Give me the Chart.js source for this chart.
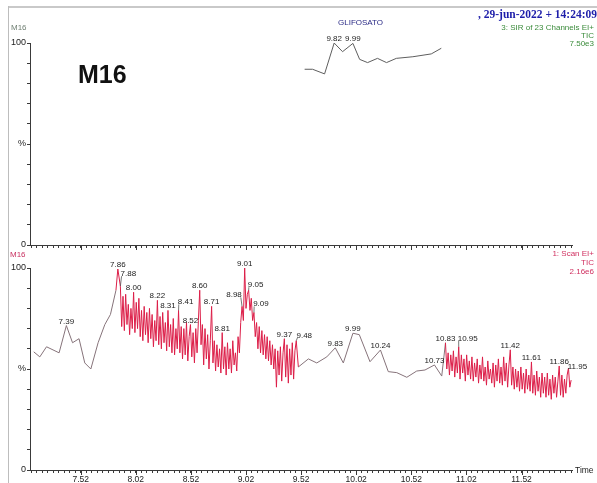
<!DOCTYPE html>
<html>
<head>
<meta charset="utf-8">
<script src="https://cdn.jsdelivr.net/npm/chart.js@4.4.1/dist/chart.umd.min.js"></script>
<style>
  html, body { margin: 0; padding: 0; background: #fff; }
  #wrap { position: relative; width: 597px; height: 483px; overflow: hidden; background: #fff;
          font-family: "Liberation Sans", Arial, sans-serif; }
  canvas { position: absolute; left: 0; }
  .t { position: absolute; line-height: 1; white-space: nowrap; }
  .frameTop { position: absolute; left: 8px; top: 6px; width: 600px; height: 2px; background: #c9c9c9; }
  .frameLeft { position: absolute; left: 8px; top: 6px; width: 1px; height: 480px; background: #bdbdbd; }
</style>
</head>
<body>
<div id="wrap">
  <div class="frameTop"></div>
  <div class="frameLeft"></div>
  <canvas id="topChart" width="597" height="255" style="top:0"></canvas>
  <canvas id="bottomChart" width="597" height="233" style="top:250px"></canvas>

  <div class="t" style="left:11px; top:24px; font-size:8px; color:#6f7f72;">M16</div>
  <div class="t" style="left:78px; top:62px; font-size:25px; font-weight:bold; color:#111;">M16</div>
  <div class="t" style="left:338px; top:19px; font-size:8px; color:#2a2a86;">GLIFOSATO</div>
  <div class="t" style="left:478px; top:9px; font-size:11.5px; font-weight:bold; color:#1e1eaa; font-family:'Liberation Serif','Times New Roman',serif;">, 29-jun-2022 + 14:24:09</div>
  <div class="t" style="right:3px; top:24px; font-size:8px; color:#3c8c3c;">3: SIR of 23 Channels EI+</div>
  <div class="t" style="right:3px; top:32px; font-size:8px; color:#3c8c3c;">TIC</div>
  <div class="t" style="right:3px; top:40px; font-size:8px; color:#3c8c3c;">7.50e3</div>

  <div class="t" style="left:10px; top:251px; font-size:8px; color:#c83060;">M16</div>
  <div class="t" style="right:3px; top:250px; font-size:8px; color:#d03060;">1: Scan EI+</div>
  <div class="t" style="right:3px; top:259px; font-size:8px; color:#d03060;">TIC</div>
  <div class="t" style="right:3px; top:268px; font-size:8px; color:#d03060;">2.16e6</div>
  <div class="t" style="left:575px; top:466px; font-size:8.5px; color:#222;">Time</div>
</div>

<script>
// time axis (minutes)
const xMin = 7.060;
const xMax = 11.978;
const xTickValues = [];
for (let k = -9; k <= 89; k++) xTickValues.push(+(7.52 + k * 0.05).toFixed(2));
const isMajor = v => Math.abs((v - 7.52) / 0.5 - Math.round((v - 7.52) / 0.5)) < 1e-6;

// top panel: SIR channel (GLIFOSATO), % of 7.50e3
const sirTimes  = [9.552, 9.624, 9.733, 9.82, 9.896, 9.99, 10.051, 10.123, 10.213, 10.295, 10.384, 10.534, 10.701, 10.792];
const sirValues = [87, 87, 84.7, 100, 95.7, 99.8, 91.9, 90.3, 92.4, 90.3, 92.4, 93.2, 94.6, 97.4];
const sirPeaks  = ["9.82", "9.99"];

// bottom panel: scan TIC, % of 2.16e6
const ticScanStep = 0.012;

const ticHeadTimes  = [7.094, 7.149, 7.210, 7.324, 7.39, 7.446, 7.505, 7.557, 7.612, 7.678, 7.739, 7.790, 7.840, 7.857];
const ticHeadValues = [58.5, 56, 61, 58, 71.5, 63, 65, 53, 50, 63, 72, 77, 89, 99.5];

const ticBurst1Start = 7.88;
const ticBurst1Values = [
  91, 71, 86, 69, 87, 72, 82, 67, 80, 70,
  88, 68, 83, 70, 85, 66, 79, 64, 81, 67,
  78, 63, 80, 65, 77, 61, 74, 64, 84, 62,
  76, 60, 78, 63, 73, 59, 79, 61, 72, 58,
  75, 57, 70, 60, 79, 58, 71, 55, 70, 57,
  73, 54, 66, 72, 56, 68, 53, 70, 58, 74,
  89, 62, 72, 52, 70, 55, 67, 50, 64, 81,
  53, 64, 49, 62, 51, 60, 48, 68, 50, 61,
  47, 63, 50, 60, 48, 64, 52, 58, 49, 66,
  58, 73, 81, 74, 100, 80, 87, 89, 79, 85,
  74, 78, 66, 73, 60, 71, 58, 69, 57, 67,
  55, 66, 54, 64, 52, 62, 50, 60, 41, 59,
  47, 61, 44, 58, 65, 46, 62, 43, 60, 47,
  63, 45, 59, 64
];

const ticMidTimes  = [9.495, 9.586, 9.662, 9.753, 9.83, 9.903, 9.99, 10.048, 10.145, 10.24, 10.311, 10.388, 10.479, 10.569, 10.644, 10.73, 10.796];
const ticMidValues = [51, 55, 53, 56, 60.5, 53, 67.7, 67, 53.6, 59.4, 48.7, 48.2, 45.9, 49, 49.5, 52, 46.5];

const ticBurst2Start = 10.83;
const ticBurst2Values = [
  63, 50, 58, 47, 57, 49, 59, 46, 56, 48,
  61, 45, 57, 48, 55, 44, 57, 47, 54, 45,
  56, 44, 53, 46, 55, 43, 52, 45, 56, 44,
  51, 42, 54, 45, 50, 43, 53, 41, 52, 44,
  55, 43, 51, 42, 56, 44, 53, 41, 52, 59.5,
  42, 51, 40, 50, 41, 49, 39, 51, 40, 48,
  38, 50, 40, 47, 39, 53.5, 38, 47, 37, 49,
  39, 46, 36, 48, 38, 46, 36, 48, 37, 45,
  35, 47, 38, 46, 36, 44, 51.5, 37, 47, 36,
  45, 38, 47, 50.5, 41, 44.5
];

const ticPeaks = ["7.39", "7.86", "7.88", "8.00", "8.22", "8.31", "8.41", "8.52", "8.60", "8.71", "8.81",
                  "8.98", "9.01", "9.05", "9.09", "9.37", "9.48", "9.83", "9.99", "10.24", "10.73",
                  "10.83", "10.95", "11.42", "11.61", "11.86", "11.95"];

// label placement for labels drawn with a leader line (px from peak to text centre)
const leaderOffsets = {
  "7.88": [8, -13], "8.41": [7, -9], "8.98": [-8, -12], "9.05": [7, -6],
  "9.09": [7, -9], "9.48": [8, -6], "10.95": [9, -9], "11.95": [9, -2]
};

const axisColor = "#3a3a3a";
const burstColor = "#dc1e48";
const sparseColor = "#86737a";
const labelFont = '8px "Liberation Sans", Arial, sans-serif';

const zip = (ts, vs) => ts.map((t, i) => ({ x: t, y: vs[i] }));
const burst = (start, vs) => vs.map((v, i) => ({ x: +(start + i * ticScanStep).toFixed(3), y: v }));

const sirPoints = zip(sirTimes, sirValues);
const ticPoints = [].concat(
  zip(ticHeadTimes, ticHeadValues),
  burst(ticBurst1Start, ticBurst1Values),
  zip(ticMidTimes, ticMidValues),
  burst(ticBurst2Start, ticBurst2Values)
);

const peakLabelPlugin = {
  id: "peakLabels",
  afterDatasetsDraw(chart, args, opts) {
    const ctx = chart.ctx;
    const pts = chart.data.datasets[0].data;
    const meta = chart.getDatasetMeta(0);
    ctx.save();
    ctx.font = labelFont;
    ctx.fillStyle = "#222";
    ctx.strokeStyle = "#555";
    ctx.lineWidth = 0.8;
    ctx.textAlign = "center";
    ctx.textBaseline = "alphabetic";
    (opts.labels || []).forEach(txt => {
      const t = parseFloat(txt);
      let best = -1;
      pts.forEach((p, i) => {
        if (Math.abs(p.x - t) <= 0.0075 && (best < 0 || p.y > pts[best].y)) best = i;
      });
      if (best < 0) {
        let d = Infinity;
        pts.forEach((p, i) => { if (Math.abs(p.x - t) < d) { d = Math.abs(p.x - t); best = i; } });
      }
      const el = meta.data[best];
      const off = leaderOffsets[txt];
      if (off) {
        const cx = el.x + off[0], cy = el.y + off[1];
        const w = ctx.measureText(txt).width;
        const ex = off[0] > 0 ? cx - w / 2 + 1 : cx + w / 2 - 1;
        ctx.beginPath();
        ctx.moveTo(el.x, el.y);
        ctx.lineTo(ex, cy + 3);
        ctx.stroke();
        ctx.fillText(txt, cx, cy + 3);
      } else {
        ctx.fillText(txt, el.x, el.y - 2);
      }
    });
    ctx.restore();
  }
};

// longer marks at the labelled time ticks
const majorTickPlugin = {
  id: "majorTicks",
  afterDraw(chart) {
    const ctx = chart.ctx;
    const sx = chart.scales.x;
    const y0 = chart.chartArea.bottom;
    ctx.save();
    ctx.strokeStyle = axisColor;
    ctx.lineWidth = 1;
    xTickValues.filter(isMajor).forEach(v => {
      const px = Math.round(sx.getPixelForValue(v)) + 0.5;
      ctx.beginPath();
      ctx.moveTo(px, y0);
      ctx.lineTo(px, y0 + 5);
      ctx.stroke();
    });
    ctx.restore();
  }
};

function makeOptions(padTop, xHeight, showXLabels, peaks) {
  return {
    responsive: false,
    animation: false,
    events: [],
    layout: { padding: { top: padTop, right: 25, left: 0, bottom: 0 } },
    plugins: { legend: { display: false }, tooltip: { enabled: false }, peakLabels: { labels: peaks } },
    scales: {
      x: {
        type: "linear",
        min: xMin,
        max: xMax,
        afterBuildTicks: s => { s.ticks = xTickValues.map(v => ({ value: v })); },
        afterFit: s => { s.height = xHeight; },
        grid: { display: true, drawOnChartArea: false, drawTicks: true, tickLength: 3, color: axisColor },
        border: { display: true, color: axisColor, width: 1 },
        ticks: {
          autoSkip: false, maxRotation: 0, minRotation: 0, padding: 2,
          color: "#222", font: { family: '"Liberation Sans", Arial, sans-serif', size: 8.5 },
          callback: v => (showXLabels && isMajor(v) ? v.toFixed(2) : "")
        }
      },
      y: {
        min: 0,
        max: 100,
        afterFit: s => { s.width = 30; },
        grid: { display: true, drawOnChartArea: false, drawTicks: true, tickLength: 3, color: axisColor },
        border: { display: true, color: axisColor, width: 1 },
        ticks: {
          stepSize: 10, autoSkip: false, padding: 1,
          color: "#222", font: { family: '"Liberation Sans", Arial, sans-serif', size: 9 },
          callback: v => (v === 100 ? "100" : v === 50 ? "%" : v === 0 ? "0" : "")
        }
      }
    }
  };
}

new Chart(document.getElementById("topChart"), {
  type: "line",
  data: {
    datasets: [{
      data: sirPoints,
      borderColor: "#5e5e5e",
      borderWidth: 1,
      pointRadius: 0,
      tension: 0,
      clip: false
    }]
  },
  options: makeOptions(43, 10, false, sirPeaks),
  plugins: [peakLabelPlugin, majorTickPlugin]
});

new Chart(document.getElementById("bottomChart"), {
  type: "line",
  data: {
    datasets: [{
      data: ticPoints,
      borderColor: burstColor,
      borderWidth: 1,
      pointRadius: 0,
      tension: 0,
      clip: false,
      segment: {
        borderColor: c => (c.p1.parsed.x - c.p0.parsed.x > 0.03 ? sparseColor : burstColor)
      }
    }]
  },
  options: makeOptions(18, 13, true, ticPeaks),
  plugins: [peakLabelPlugin, majorTickPlugin]
});
</script>
</body>
</html>
